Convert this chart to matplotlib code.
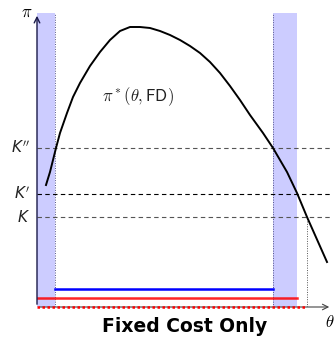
import numpy as np
import matplotlib.pyplot as plt

plt.rcParams['mathtext.fontset'] = 'cm'

# profit curve pi*(theta, FD)
theta = [0.09, 0.13, 0.19, 0.23, 0.30, 0.36, 0.43, 0.53, 0.63, 0.73,
         0.83, 0.93, 1.03, 1.13, 1.23, 1.33, 1.43, 1.53, 1.63, 1.73,
         1.83, 1.93, 2.03, 2.13, 2.26, 2.36, 2.50, 2.60, 2.70, 2.90]
profit = [1.22, 1.35, 1.59, 1.74, 1.94, 2.10, 2.24, 2.41, 2.55, 2.67,
          2.76, 2.80, 2.80, 2.79, 2.76, 2.72, 2.67, 2.61, 2.54, 2.45,
          2.34, 2.21, 2.07, 1.92, 1.74, 1.59, 1.35, 1.14, 0.90, 0.45]

# cost levels
k_levels = [1.59, 1.13, 0.90]
k_labels = [r"$K''$", r"$K'$", r"$K$"]
k_colors = ["#555555", "black", "#555555"]

# shaded theta intervals
bands = [(0.0, 0.18), (2.36, 2.60)]

# horizontal segments: (x0, x1, y)
blue_seg = (0.18, 2.36, 0.18)
red_seg = (0.0, 2.60, 0.09)
red_dot = (0.0, 2.70, 0.0)
theta_k = 2.70

xmax, ymax = 2.95, 2.94

fig = plt.figure(figsize=(3.35, 3.42), dpi=100)
ax = fig.add_axes([37 / 335, 35 / 342, 295 / 335, 294 / 342])
ax.set_xlim(0, xmax)
ax.set_ylim(0, ymax)
ax.axis("off")

# bands
for a, b in bands:
    ax.axvspan(a, b, ymin=0, ymax=1.0, color="#ccccff", lw=0, zorder=0)
ax.plot([bands[0][1]] * 2, [0, ymax], ls=(0, (1, 1.5)), color="#555588", lw=0.7)
ax.plot([bands[1][0]] * 2, [0, ymax], ls=(0, (1, 1.5)), color="#555588", lw=0.7)

# K lines
for k, lab, c in zip(k_levels, k_labels, k_colors):
    ax.plot([0, xmax], [k, k], ls=(0, (4, 3)), color=c, lw=0.8)
    ax.text(-0.07, k, lab, ha="right", va="center", fontsize=11,
            math_fontfamily="dejavusans", color="#222222")

# dotted drop from K crossing
ax.plot([theta_k, theta_k], [0, k_levels[2]], ls=(0, (1, 1.5)), color="#555555", lw=0.7)

# curve
ax.plot(theta, profit, color="black", lw=1.4, solid_joinstyle="round")
ax.text(0.65, 2.10, r"$\pi^*(\theta,\mathsf{FD})$", fontsize=12, va="center",
        color="#222222")

# segments
ax.plot(blue_seg[:2], [blue_seg[2]] * 2, color="blue", lw=1.8)
ax.plot(red_seg[:2], [red_seg[2]] * 2, color="red", lw=1.8, alpha=0.85)

# axes arrows
ax.annotate("", xy=(xmax, 0), xytext=(0, 0),
            arrowprops=dict(arrowstyle="->", color="#444444", lw=0.8),
            annotation_clip=False)
ax.annotate("", xy=(0, ymax), xytext=(0, 0),
            arrowprops=dict(arrowstyle="->", color="#1a1a4a", lw=1.0),
            annotation_clip=False)
ax.plot(red_dot[:2], [red_dot[2]] * 2, color="red", lw=1.8, ls=(0, (1, 1)),
        zorder=5, clip_on=False)
ax.text(-0.10, ymax + 0.01, r"$\pi$", fontsize=12, ha="center", va="center")

fig.text(0.999, 1 - 322 / 342, r"$\theta$", fontsize=12, ha="right", va="center")
fig.text(185 / 335, 1 - 327 / 342, "Fixed Cost Only", ha="center", va="center",
         fontsize=13.5, fontweight="bold")

fig.savefig("out.png", dpi=100)
